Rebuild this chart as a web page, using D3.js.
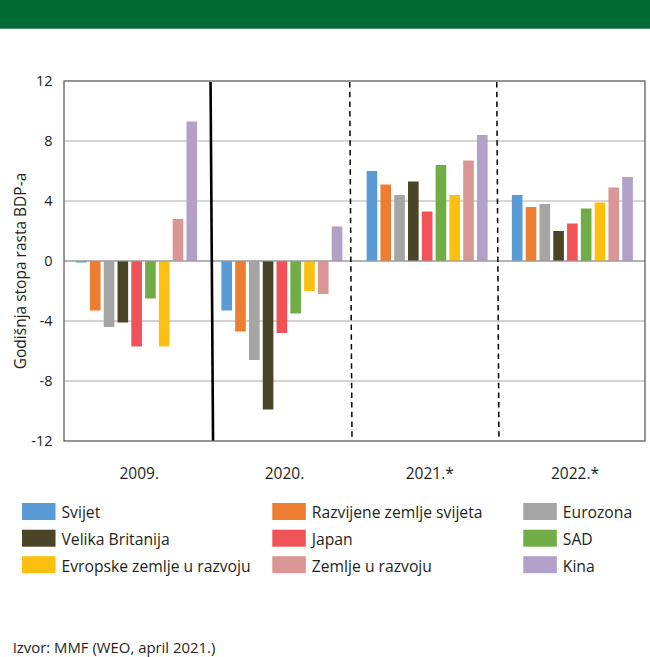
<!DOCTYPE html>
<html>
<head>
<meta charset="utf-8">
<script src="https://cdn.jsdelivr.net/npm/d3@7"></script>
<style>
  html, body { margin: 0; padding: 0; background: #fff; }
  svg { display: block; }
  text { font-family: "Open Sans", "Noto Sans", sans-serif; fill: #231f20; }
</style>
</head>
<body>
<div id="chart"></div>
<script>
// ---- data ----
const years = ["2009.", "2020.", "2021.*", "2022.*"];
const seriesNames = ["Svijet", "Razvijene zemlje svijeta", "Eurozona", "Velika Britanija", "Japan", "SAD", "Evropske zemlje u razvoju", "Zemlje u razvoju", "Kina"];
const seriesColors = ["#5b9bd5", "#ed7d31", "#a5a5a5", "#4a4527", "#ef5357", "#70ad47", "#fdc010", "#da9694", "#b1a0c7"];
const svijet      = [-0.1, -3.3, 6.0, 4.4];
const razvijene   = [-3.3, -4.7, 5.1, 3.6];
const eurozona    = [-4.4, -6.6, 4.4, 3.8];
const velikaBrit  = [-4.1, -9.9, 5.3, 2.0];
const japan       = [-5.7, -4.8, 3.3, 2.5];
const sad         = [-2.5, -3.5, 6.4, 3.5];
const evropske    = [-5.7, -2.0, 4.4, 3.9];
const uRazvoju    = [2.8, -2.2, 6.7, 4.9];
const kina        = [9.3, 2.3, 8.4, 5.6];
const seriesValues = [svijet, razvijene, eurozona, velikaBrit, japan, sad, evropske, uRazvoju, kina];
const yTicks = [-12, -8, -4, 0, 4, 8, 12];
const yTitle = "Godišnja stopa rasta BDP-a";
const source = "Izvor: MMF (WEO, april 2021.)";

// ---- layout ----
const W = 650, H = 657;
const plot = { left: 64, right: 645, top: 81, bottom: 441 };

const svg = d3.select("#chart").append("svg").attr("width", W).attr("height", H);

// header band
svg.append("rect").attr("x", 0).attr("y", 0).attr("width", W).attr("height", 28.7).attr("fill", "#006a33");

const x0 = d3.scaleBand().domain(years).range([plot.left, plot.right]).paddingInner(0).paddingOuter(0);
const x1 = d3.scaleBand().domain(seriesNames).range([0, x0.bandwidth()]).paddingInner(0.23).paddingOuter(0.88);
const y = d3.scaleLinear().domain([-12, 12]).range([plot.bottom, plot.top]);

// gridlines
const gridStyle = { "8": ["#c8c8c8", 1.6], "4": ["#c8c8c8", 1.6], "-4": ["#a6a6a6", 1.1], "-8": ["#c4c4c4", 1.3], "0": ["#9a9a9a", 1.1] };
svg.append("g").selectAll("line").data(yTicks.filter(t => t > -12 && t < 12)).join("line")
  .attr("x1", plot.left).attr("x2", plot.right)
  .attr("y1", d => y(d)).attr("y2", d => y(d))
  .attr("stroke", d => gridStyle[String(d)][0])
  .attr("stroke-width", d => gridStyle[String(d)][1]);

// bars
const groups = svg.append("g").selectAll("g").data(years).join("g")
  .attr("transform", d => `translate(${x0(d)},0)`);
groups.selectAll("rect")
  .data((yr, gi) => seriesNames.map((s, si) => ({ s, si, v: seriesValues[si][gi] })))
  .join("rect")
  .attr("x", d => x1(d.s))
  .attr("width", x1.bandwidth())
  .attr("y", d => y(Math.max(0, d.v)))
  .attr("height", d => Math.abs(y(d.v) - y(0)))
  .attr("fill", d => seriesColors[d.si]);

// zero line on top
svg.append("line").attr("x1", plot.left).attr("x2", plot.right).attr("y1", y(0)).attr("y2", y(0))
  .attr("stroke", "#9a9a9a").attr("stroke-width", 1.1);

// separators between groups
const b1 = x0("2020."), b2 = x0("2021.*"), b3 = x0("2022.*");
svg.append("line").attr("x1", b1 + 1.3).attr("y1", plot.top + 1).attr("x2", b1 + 3.8).attr("y2", plot.bottom)
  .attr("stroke", "#000").attr("stroke-width", 2.6);
[[b2 - 4.8, b2 - 2.5], [b3 - 3.0, b3 - 0.8]].forEach(([xa, xb]) => {
  svg.append("line").attr("x1", xa).attr("y1", plot.top + 1).attr("x2", xb).attr("y2", plot.bottom)
    .attr("stroke", "#000").attr("stroke-width", 1.5).attr("stroke-dasharray", "5.5,4.2");
});

// plot border
svg.append("rect").attr("x", plot.left).attr("y", plot.top)
  .attr("width", plot.right - plot.left).attr("height", plot.bottom - plot.top)
  .attr("fill", "none").attr("stroke", "#5f5f5f").attr("stroke-width", 1.3);

// y tick labels
svg.append("g").selectAll("text").data(yTicks).join("text")
  .attr("x", 52.5).attr("y", d => y(d)).attr("dy", "0.36em")
  .attr("text-anchor", "end").style("font-size", "14.5px")
  .text(d => d);

// y title
svg.append("text")
  .attr("transform", `translate(25.5,${(plot.top + plot.bottom) / 2 + 10}) rotate(-90)`)
  .attr("text-anchor", "middle").style("font-size", "15.5px")
  .text(yTitle);

// x labels
svg.append("g").selectAll("text").data(years).join("text")
  .attr("x", d => x0(d) + x0.bandwidth() / 2 + 2.6).attr("y", 478.5)
  .attr("text-anchor", "middle").style("font-size", "15.5px")
  .text(d => d);

// legend (3 columns, row-major)
const colX = [22, 272.3, 523.3];
const rowY = [503, 529.7, 556.2];
const leg = svg.append("g").selectAll("g").data(seriesNames).join("g")
  .attr("transform", (d, i) => `translate(${colX[i % 3]},${rowY[Math.floor(i / 3)]})`);
leg.append("rect").attr("width", 33.5).attr("height", 17).attr("fill", (d, i) => seriesColors[i]);
leg.append("text").attr("x", 39.5).attr("y", 15.3).style("font-size", "15.7px").text(d => d);

// source
svg.append("text").attr("x", 12.7).attr("y", 653.3).style("font-size", "14.9px").text(source);
</script>
</body>
</html>
